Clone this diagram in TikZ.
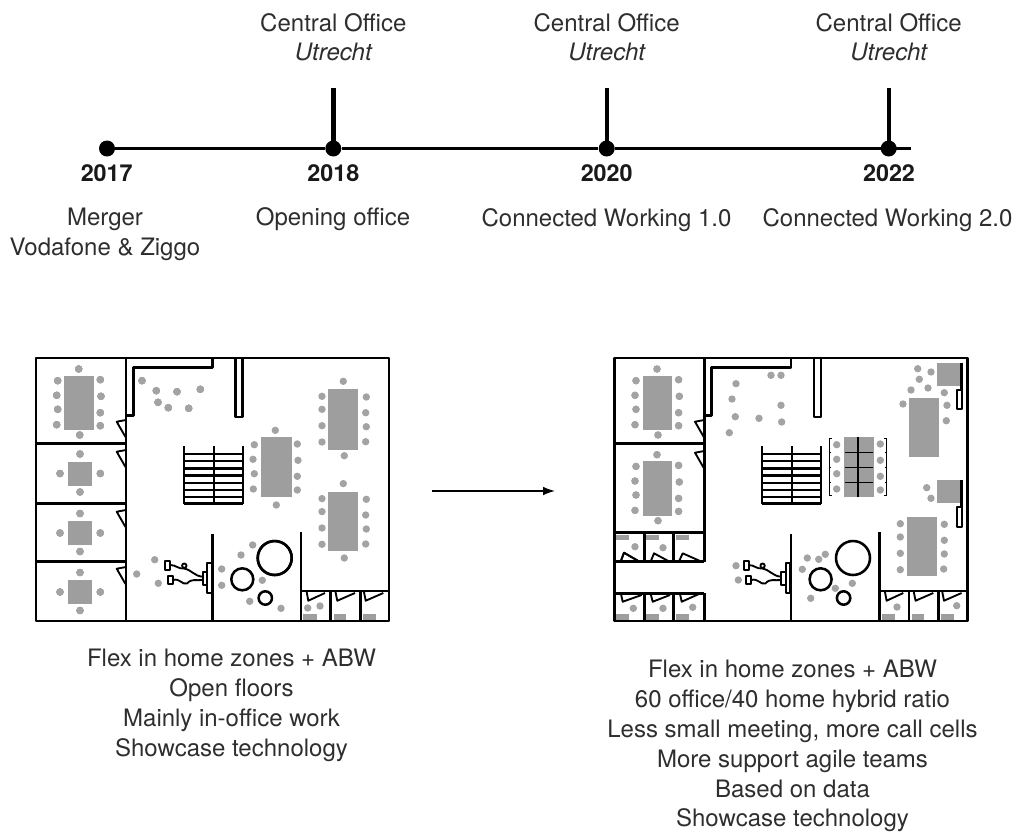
\documentclass[tikz,border=0pt]{standalone}
\usepackage{fontspec}
\setmainfont{TeX Gyre Heros}
\usetikzlibrary{arrows.meta}
\tikzset{
  lbl/.style={anchor=base,inner sep=0pt,text=black!82,font=\fontsize{18}{21}\selectfont},
  yearlbl/.style={lbl,text=black!90,font=\fontsize{17.5}{21}\selectfont\bfseries},
  yeardot/.style={circle,fill=black,inner sep=0pt,minimum size=12pt},
  axis/.style={line width=1.9pt},
  stem/.style={line width=3.3pt},
  wall/.style={line width=1.9pt,line join=round},
  thinwall/.style={line width=1.4pt,line join=round},
  tbl/.style={fill=black!38},
  seat/.style={fill=black!36}
}
\newcommand{\seatlist}[1]{\foreach \p in {#1} \fill[seat] \p circle (3.7);}
\newcommand{\bigtable}[1]{
  \begin{scope}[shift={(0,#1)}]
    \fill[tbl] (64.3,375.7) rectangle (94,430);
    \seatlist{(78.7,369),(57.7,380.7),(56.7,395.3),(57.7,409.3),(56.7,424.7),(100.3,379.7),(101,396.3),(100.3,412.7),(100.3,425.7),(79.7,435)}
  \end{scope}}
\newcommand{\doorleft}[1]{\draw[thinwall] (126,#1) -- (116.7,#1+1.7) -- (125.5,#1+17);}
\newcommand{\planshell}{
  \draw[wall] (36,358) rectangle (389,621);
  \draw[wall] (212.7,358) -- (212.7,367.3) -- (133.3,367.3) -- (133.3,415.3) -- (126,415.3);
  \draw[wall] (235.7,358) -- (235.7,417) -- (242.7,417) -- (242.7,358);
  \foreach \x in {183.7,213.7,242.7} \draw[thinwall] (\x,446) -- (\x,503.7);
  \foreach \y in {454,461.2,468.4,475.6,482.8,490,497,503.7} \draw[wall] (183.7,\y) -- (242.7,\y);
  \draw[wall] (212.7,534) -- (212.7,621);
  \draw[wall] (301,532.3) -- (301,621);
  \draw[wall] (301,591) -- (389,591);
  \foreach \x in {330.7,360.3} \draw[wall] (\x,591) -- (\x,621);
  \foreach \x/\w in {303.3/13.4,334/11.7,362.7/13} \fill[tbl] (\x,614) rectangle (\x+\w,620);
  \draw[thinwall] (306.7,592) -- (308.3,600.7) -- (325,593);
  \draw[thinwall] (335.5,592) -- (337.3,600.7) -- (355,593);
  \draw[thinwall] (364,592) -- (365.7,600.7) -- (383.3,593);
  \draw[thinwall] (207.3,562.7) rectangle (212,593.3);
  \draw[thinwall] (202.7,571.7) rectangle (207.3,585);
  \draw[thinwall] (165.3,561) rectangle (170.3,569.7);
  \draw[thinwall] (168,576) rectangle (173,584);
  \draw[thinwall] (170.3,565) .. controls (176,565) and (178,569) .. (184,568.5) .. controls (192,570) and (194,576) .. (202.7,576.7);
  \draw[thinwall] (173,580) .. controls (180,578) and (182,585) .. (187,583.5) .. controls (192,578) and (196,581) .. (202.7,580);
  \draw[thinwall] (184.3,565.7) circle (2.2);
}
\begin{document}
\begin{tikzpicture}[x=0.75pt,y=-0.75pt]
  \useasboundingbox (0,0) rectangle (1018,833);
  \foreach \n/\x in {2017/107,2018/333.3,2020/606.7,2022/888.7}
    \node[yeardot] (d\n) at (\x,148.5) {};
  \coordinate (lineend) at (911,148.5);
  \draw[axis] (d2017) -- (d2018) -- (d2020) -- (d2022.center) -- (lineend);
  \foreach \n/\x in {2018/333.3,2020/606.7,2022/888.7} {
    \coordinate (top\n) at (\x,88);
    \draw[stem] (top\n) -- (d\n.center);
    \node[lbl] (office\n) at (\x,31) {Central Office};
    \node[lbl] (city\n) at (\x,60.3) {\itshape Utrecht};
  }
  \foreach \n/\x in {2017/106.7,2018/333.3,2020/606.7,2022/889}
    \node[yearlbl] (year\n) at (\x,181.7) {\n};
  \node[lbl] (merger) at (105,225) {Merger};
  \node[lbl] (merger2) at (105,255) {Vodafone \& Ziggo};
  \node[lbl] (opening) at (333,225) {Opening office};
  \node[lbl] (connected1) at (606.5,226) {Connected Working 1.0};
  \node[lbl] (connected2) at (887.5,226) {Connected Working 2.0};

  \planshell
  \draw[wall] (126,358) -- (126,621);
  \foreach \y in {443.7,503.7,561.7} \draw[wall] (36,\y) -- (126,\y);
  \foreach \y in {420,450,510,567} \doorleft{\y}
  \bigtable{0}
  \foreach \y in {473.5,533,592} {
    \fill[tbl] (68.3,\y-12) rectangle (92.3,\y+12);
    \seatlist{(80,\y-19.5),(80,\y+18.5),(60,\y),(100.3,\y)}
  }
  \seatlist{(142,380.7),(156.3,390.7),(177,391.7),(200.3,389.3),(158,402.3),(168.3,407.7),(188.7,408.3)}
  \fill[tbl] (261,437) rectangle (291.7,496.7);
  \seatlist{(275.3,430.3),(254.3,444.7),(253,459.3),(254.3,473.7),(253.3,489),(297.3,444),(298,460.3),(297.3,476.3),(297.3,490),(276.3,505)}
  \fill[tbl] (328.3,389.3) rectangle (358.3,449.7);
  \fill[tbl] (328.3,492) rectangle (358.3,551);
  \foreach \d in {0,102.3}
    \seatlist{(343.3,381.3+\d),(322,396.3+\d),(322,409.3+\d),(322,425.7+\d),(322,442+\d),(366.3,397+\d),(365.7,412.7+\d),(366.3,426.7+\d),(365.7,441.7+\d),(344.3,455.7+\d)}
  \draw[wall] (274.7,558) circle (17);
  \draw[wall] (242.3,579.3) circle (11);
  \draw[wall] (265.3,598) circle (6.7);
  \seatlist{(252.7,545),(241,555),(221.7,569),(221.7,585.3),(262.3,580.3),(249.7,601.3),(281,608.3)}
  \seatlist{(154.7,559.7),(136.7,574),(158.3,583.3),(307.7,608),(320,606)}

  \coordinate (arrowstart) at (432,491);
  \coordinate (arrowend) at (555,491);
  \draw[line width=1pt,-{Latex[length=9pt,width=6.5pt]}] (arrowstart) -- (arrowend);

  \begin{scope}[shift={(578.3,0)}]
    \planshell
    \draw[wall] (126,358) -- (126,561.7);
    \draw[wall] (126,593.3) -- (126,621);
    \draw[wall] (36,443.7) -- (126,443.7);
    \draw[wall] (36,532.7) -- (126,532.7);
    \draw[wall] (36,561.7) -- (126,561.7);
    \draw[wall] (36,593.3) -- (126,593.3);
    \foreach \x in {66,95.4} {
      \draw[wall] (\x,532.7) -- (\x,561.7);
      \draw[wall] (\x,593.3) -- (\x,621);
    }
    \foreach \y in {420,451} \doorleft{\y}
    \bigtable{0}
    \bigtable{85.7}
    \foreach \x in {38,67.8,97.4} {
      \fill[tbl] (\x,535) rectangle (\x+13,540);
      \fill[tbl] (\x,614) rectangle (\x+13,620);
    }
    \draw[thinwall] (42.7,560.7) -- (45.7,552.7) -- (60,561);
    \draw[thinwall] (72.7,560.7) -- (75.7,553.3) -- (90,561);
    \draw[thinwall] (101,560.7) -- (104.4,553.3) -- (121.7,561);
    \draw[thinwall] (42.7,594) -- (44.4,601.7) -- (63.4,595);
    \draw[thinwall] (72.4,594) -- (74.4,601.7) -- (91.7,595);
    \draw[thinwall] (101.7,594) -- (103.4,601.7) -- (120.7,594);
    \seatlist{(56.7,546.7),(84.7,547.7),(55,608.3),(84.7,608.3),(114.4,607.3)}
    \seatlist{(192.7,375.3),(202.7,375.3),(157.7,383.7),(153.7,399),(202.7,405.3),(157,416.7),(180.7,418.3),(203.4,422),(151,432.7)}
    \seatlist{(157.7,565.7),(160,580)}

    \fill[tbl] (265.7,436.7) rectangle (295.7,497.3);
    \draw[thinwall] (280,436.7) -- (280,497.3);
    \foreach \y in {452.7,467.3,482.3} \draw[line width=1pt] (267,\y) -- (295,\y);
    \draw[line width=0.9pt] (253.5,438.3) -- (251,438.3) -- (251,495.7) -- (253.5,495.7);
    \draw[line width=0.9pt] (306,438.3) -- (308.4,438.3) -- (308.4,495.7) -- (306,495.7);
    \foreach \y in {452.7,467.3,482.3} {
      \draw[line width=0.9pt] (251,\y) -- (253,\y);
      \draw[line width=0.9pt] (306.4,\y) -- (308.4,\y);
    }
    \seatlist{(258.4,444.7),(258.4,459.3),(258.4,473.7),(258.4,489),(302,444),(302,460.3),(302,476.3),(302,490)}

    \fill[tbl] (358.4,362.7) rectangle (382.7,386);
    \fill[tbl] (331,397.7) rectangle (360.7,457);
    \draw[wall] (383.4,362.7) -- (383.4,390);
    \draw[thinwall] (378.4,390) rectangle (383.7,409.3);
    \seatlist{(339.4,368.7),(352.7,372),(341,379.3),(332.7,390),(349.7,388),(366,392.7),(324.7,404),(368.7,405.3),(368,420.7)}

    \fill[tbl] (358.4,480) rectangle (382.7,503.3);
    \fill[tbl] (328.4,517.3) rectangle (358.7,576.3);
    \draw[wall] (383.4,480) -- (383.4,507);
    \draw[thinwall] (378.4,507.3) rectangle (383.7,526.7);
    \seatlist{(348.4,487.7),(352.7,498.3),(322,523.7),(322,537),(322,553.3),(322,569.7),(366,524.3),(366,540.3),(366,554),(365.4,569)}

    \draw[wall] (274.7,558) circle (17);
    \draw[wall] (242.3,579.3) circle (11);
    \draw[wall] (265.3,598) circle (6.7);
    \seatlist{(229,558),(240.4,559.3),(247,554.3),(224,569.3),(274,583.3),(257,588.3),(232.4,598.3)}
    \seatlist{(318.7,607),(378.4,605.7)}
  \end{scope}

  \foreach \n/\y/\t in {a/666.7/{Flex in home zones + ABW},b/696.7/{Open floors},c/726.7/{Mainly in-office work},d/756.7/{Showcase technology}}
    \node[lbl] (left\n) at (231.5,\y) {\t};
  \foreach \n/\y/\t in {a/677.7/{Flex in home zones + ABW},b/707.5/{60 office/40 home hybrid ratio},c/737.3/{Less small meeting, more call cells},d/767/{More support agile teams},e/797/{Based on data},f/826.7/{Showcase technology}}
    \node[lbl] (right\n) at (792.5,\y) {\t};
\end{tikzpicture}
\end{document}
